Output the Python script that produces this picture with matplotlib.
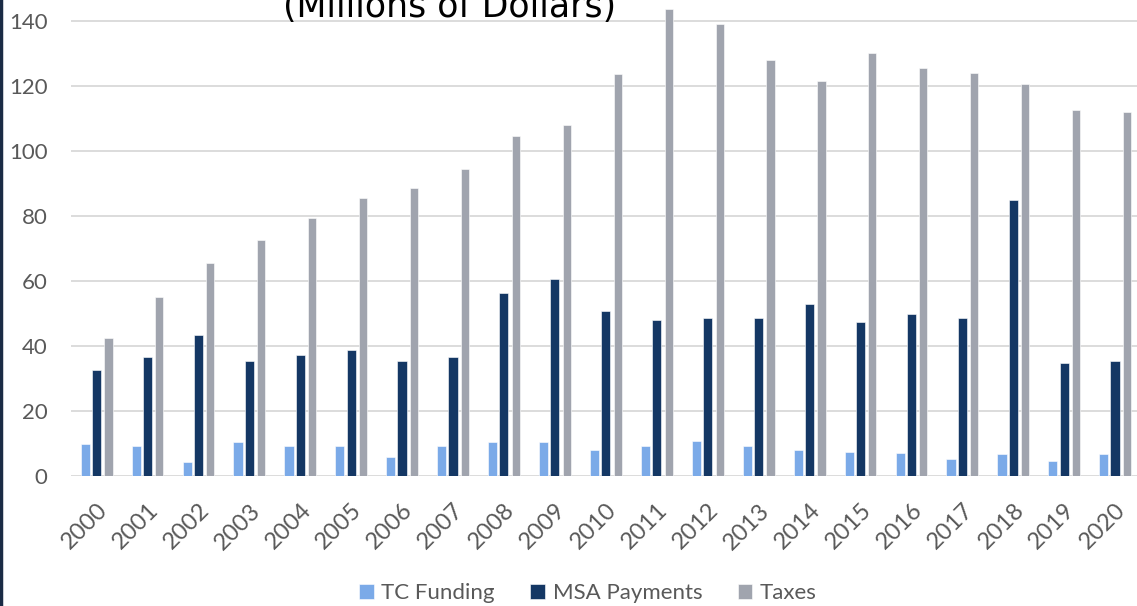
import numpy as np
import matplotlib.pyplot as plt
from matplotlib.lines import Line2D

# Data (millions of dollars)
years = [str(y) for y in range(2000, 2021)]
tc_funding = [9.7, 9.2, 4.2, 10.5, 9.2, 9.2, 5.9, 9.2, 10.5, 10.5, 8.0,
              9.2, 10.9, 9.2, 7.9, 7.5, 7.1, 5.3, 6.7, 4.6, 6.7]
msa_payments = [32.5, 36.5, 43.3, 35.4, 37.3, 38.7, 35.4, 36.5, 56.4, 60.5, 50.9,
                48.0, 48.7, 48.7, 53.0, 47.5, 49.7, 48.7, 85.0, 34.9, 35.4]
taxes = [42.4, 55.1, 65.5, 72.5, 79.5, 85.5, 88.5, 94.5, 104.5, 108.0, 123.5,
         143.5, 139.0, 128.0, 121.5, 130.0, 125.5, 124.0, 120.5, 112.5, 112.0]
y_ticks = [0, 20, 40, 60, 80, 100, 120, 140]

c_tc = '#7BAAE8'
c_msa = '#143764'
c_tax = '#A0A4AE'

fig = plt.figure(figsize=(11.37, 6.06), dpi=100)
# plot area runs past the right edge and top, as in the cropped reference
ax = fig.add_axes([71 / 1137, 130 / 606, 1069.5 / 1137, 476 / 606])

x = np.arange(len(years))
w = 0.18
ax.bar(x - 0.22, tc_funding, w, color=c_tc, edgecolor='white', linewidth=0.4,
       label='TC Funding', zorder=3)
ax.bar(x, msa_payments, w, color=c_msa, edgecolor='white', linewidth=0.4,
       label='MSA Payments', zorder=3)
ax.bar(x + 0.235, taxes, 0.16, color=c_tax, edgecolor='white', linewidth=0.4,
       label='Taxes', zorder=3)

ax.set_xlim(-0.5, len(years) - 0.5)
ax.set_ylim(0, 146.4)
ax.set_yticks(y_ticks)
ax.set_xticks(x)
ax.set_xticklabels(years, rotation=45, ha='right', va='top',
                   rotation_mode='anchor')
ax.tick_params(axis='both', length=0, labelcolor='#595959')
ax.tick_params(axis='y', pad=17, labelsize=16)
ax.tick_params(axis='x', pad=17, labelsize=17)
for lab in ax.get_xticklabels() + ax.get_yticklabels():
    lab.set_fontfamily('Lato')

ax.grid(axis='y', color='#D9D9D9', linewidth=1.3, zorder=0)
for s in ax.spines.values():
    s.set_visible(False)

leg = ax.legend(loc='center', bbox_to_anchor=(588 / 1137, 13 / 606),
                bbox_transform=fig.transFigure, ncol=3, frameon=False,
                handlelength=0.65, handleheight=0.65, handletextpad=0.35,
                columnspacing=1.6, prop={'family': 'Lato', 'size': 16})
for t in leg.get_texts():
    t.set_color('#595959')

# title, mostly cut off at the top of the crop
fig.text(450 / 1137, 1 - 17 / 606, '(Millions of Dollars)', ha='center',
         va='baseline', fontsize=25, color='black', family='DejaVu Sans')

# dark border on the left edge
fig.add_artist(Line2D([0.001, 0.001], [0, 1], color='#1A2B45', linewidth=2.5,
                      transform=fig.transFigure))

fig.savefig('out.png', dpi=100)
